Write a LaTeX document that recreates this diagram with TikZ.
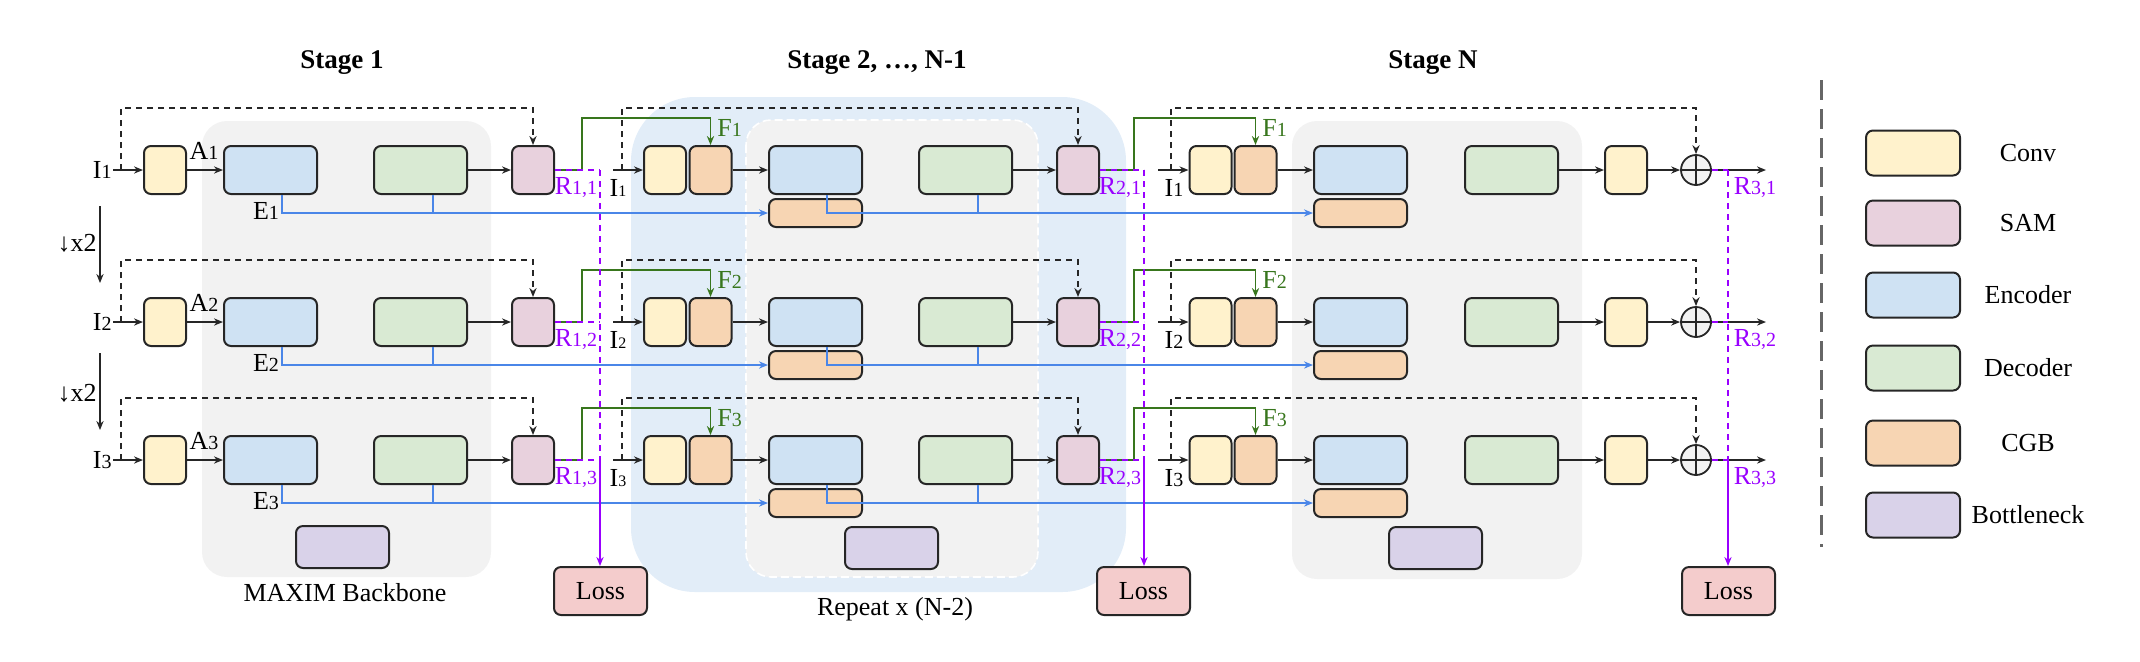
\documentclass[tikz,border=0pt]{standalone}
\usepackage{fontspec}
\setmainfont{Liberation Serif}
\usetikzlibrary{arrows.meta,calc}
\definecolor{convc}{HTML}{FFF2CC}
\definecolor{samc}{HTML}{E8D1DD}
\definecolor{encc}{HTML}{CFE2F3}
\definecolor{decc}{HTML}{D9EAD3}
\definecolor{cgbc}{HTML}{F7D5B3}
\definecolor{botc}{HTML}{D9D2E9}
\definecolor{lossc}{HTML}{F4CCCC}
\definecolor{grayreg}{HTML}{F2F2F2}
\definecolor{bluereg}{HTML}{E2EDF8}
\definecolor{bline}{HTML}{4A86E8}
\definecolor{gline}{HTML}{38761D}
\definecolor{purp}{HTML}{9900FF}
\newcommand\sbs[1]{{\fontsize{10}{10}\selectfont #1}}
\newcommand\sbt[1]{{\fontsize{8}{8}\selectfont #1}}
\tikzset{
 box/.style={draw=black!85, line width=1pt, rounded corners=3.5pt, inner sep=0pt, minimum height=24pt},
 sbox/.style={box, minimum width=21pt},
 wbox/.style={box, minimum width=46.5pt},
 convb/.style={sbox, fill=convc},
 samb/.style={sbox, fill=samc},
 cgbs/.style={sbox, fill=cgbc},
 encb/.style={wbox, fill=encc},
 decb/.style={wbox, fill=decc},
 cgbw/.style={wbox, fill=cgbc, minimum height=14pt},
 botb/.style={wbox, fill=botc, minimum height=21pt},
 lossb/.style={wbox, fill=lossc},
 legb/.style={box, minimum width=47pt, minimum height=22.5pt},
 arr/.style={-{Stealth[length=4.5pt,width=3.6pt]}},
 ln/.style={line width=0.8pt, black!85},
 dsh/.style={ln, dash pattern=on 3pt off 2.5pt},
 bl/.style={line width=0.8pt, bline},
 gr/.style={line width=0.8pt, gline},
 pd/.style={line width=0.8pt, purp, dash pattern=on 3pt off 2.5pt},
 ps/.style={line width=0.8pt, purp},
 lbl/.style={inner sep=0.5pt},
 ttl/.style={font=\fontsize{13.5}{15}\selectfont\bfseries},
}
\begin{document}
\begin{tikzpicture}[x=0.5pt, y=-0.5pt, font=\fontsize{13}{15}\selectfont]
\useasboundingbox (0,0) rectangle (2140,661);
% regions
\fill[grayreg, rounded corners=12.5pt] (202,121) rectangle (491,577);
\fill[bluereg, rounded corners=32pt] (631,97) rectangle (1126,592);
\filldraw[fill=grayreg, draw=white, line width=0.8pt, dash pattern=on 4pt off 2pt, rounded corners=12.5pt] (746,120) rectangle (1038,577);
\fill[grayreg, rounded corners=12.5pt] (1292,121) rectangle (1582,579);
% titles
\node[ttl] (t1) at (342,63) {Stage 1};
\node[ttl] (t2) at (877,63) {Stage 2, …, N-1};
\node[ttl] (t3) at (1433,63) {Stage N};
% rows: nodes
\foreach \r/\y in {1/170,2/322,3/460}{
 % stage 1
 \node[lbl, anchor=east] (IA\r) at (113,\y) {I\sbs{\r}};
 \node[convb] (convA\r) at (165,\y) {};
 \node[encb] (encA\r) at (270.5,\y) {};
 \node[decb] (decA\r) at (420.5,\y) {};
 \node[samb] (samA\r) at (533,\y) {};
 \node[lbl] (AA\r) at (204,\y-19) {A\sbs{\r}};
 \node[lbl] (EA\r) at (266,\y+41) {E\sbs{\r}};
 \node[lbl, text=purp] (RA\r) at (576,\y+18) {R\sbs{1,\r}};
 % stage 2
 \node[lbl] (IB\r) at (618,\y+18) {I\sbt{\r}};
 \node[convb] (convB\r) at (665,\y) {};
 \node[cgbs] (cgbB\r) at (710.5,\y) {};
 \node[encb] (encB\r) at (815.5,\y) {};
 \node[cgbw] (cgwB\r) at (815.5,\y+43) {};
 \node[decb] (decB\r) at (965.5,\y) {};
 \node[samb] (samB\r) at (1078,\y) {};
 \node[lbl, text=gline, anchor=west] (FB\r) at (716,\y-42) {F\sbs{\r}};
 \node[lbl, text=purp] (RB\r) at (1120,\y+18) {R\sbs{2,\r}};
 % stage N
 \node[lbl] (IC\r) at (1174,\y+18) {I\sbs{\r}};
 \node[convb] (convC\r) at (1210.5,\y) {};
 \node[cgbs] (cgbC\r) at (1255.5,\y) {};
 \node[encb] (encC\r) at (1360.5,\y) {};
 \node[cgbw] (cgwC\r) at (1360.5,\y+43) {};
 \node[decb] (decC\r) at (1511.5,\y) {};
 \node[convb] (convO\r) at (1626,\y) {};
 \node[circle, draw=black!85, line width=0.9pt, fill=grayreg, minimum size=15pt, inner sep=0pt] (plus\r) at (1696,\y) {};
 \node[lbl, text=gline, anchor=west] (FC\r) at (1261,\y-42) {F\sbs{\r}};
 \node[lbl, text=purp] (RC\r) at (1755,\y+18) {R\sbs{3,\r}};
}
% bottlenecks, losses, captions
\node[botb] (botA) at (342.5,547) {};
\node[botb] (botB) at (891.5,548) {};
\node[botb] (botC) at (1435.5,548) {};
\node[lossb] (lossA) at (600.5,591) {Loss};
\node[lossb] (lossB) at (1143.5,591) {Loss};
\node[lossb] (lossC) at (1728.5,591) {Loss};
\node (capA) at (345,593) {MAXIM Backbone};
\node (capB) at (895,609) {Repeat x (N-2)};
% connectors
\foreach \r/\y in {1/170,2/322,3/460}{
 % stage 1
 \draw[ln,arr] (IA\r.east) -- (convA\r.west);
 \coordinate (dA\r) at (121,\y);
 \draw[dsh,arr] (dA\r) -- ++(0,-62) -| (samA\r.north);
 \draw[ln,arr] (convA\r.east) -- (encA\r.west);
 \draw[ln,arr] (decA\r.east) -- (samA\r.west);
 \draw[gr,arr] (samA\r.east) -- ++(27,0) -- ++(0,-52) -| (cgbB\r.north);
 \coordinate (pA\r) at (600,\y);
 \draw[pd] (samA\r.east) -- (pA\r);
 \coordinate (ebA\r) at ($(encA\r.south)+(11.5,0)$);
 \draw[bl,arr] (ebA\r) |- (cgwB\r.west);
 \coordinate (dbA\r) at ($(decA\r.south)+(12.5,0)$);
 \draw[bl] (dbA\r) -- (dbA\r |- cgwB\r.west);
 % stage 2
 \coordinate (inB\r) at (613,\y);
 \draw[ln,arr] (inB\r) -- (convB\r.west);
 \coordinate (dB\r) at (622,\y);
 \draw[dsh,arr] (dB\r) -- ++(0,-62) -| (samB\r.north);
 \draw[ln,arr] (cgbB\r.east) -- (encB\r.west);
 \draw[ln,arr] (decB\r.east) -- (samB\r.west);
 \draw[gr,arr] (samB\r.east) -- ++(34,0) -- ++(0,-52) -| (cgbC\r.north);
 \coordinate (pB\r) at (1144,\y);
 \draw[pd] (samB\r.east) -- (pB\r);
 \coordinate (ebB\r) at ($(encB\r.south)+(11.5,0)$);
 \draw[bl,arr] (ebB\r) |- (cgwC\r.west);
 \coordinate (dbB\r) at ($(decB\r.south)+(12.5,0)$);
 \draw[bl] (dbB\r) -- (dbB\r |- cgwC\r.west);
 % stage N
 \coordinate (inC\r) at (1158,\y);
 \draw[ln,arr] (inC\r) -- (convC\r.west);
 \coordinate (dC\r) at (1171,\y);
 \draw[dsh,arr] (dC\r) -- ++(0,-62) -| (plus\r.north);
 \draw[ln,arr] (cgbC\r.east) -- (encC\r.west);
 \draw[ln,arr] (decC\r.east) -- (convO\r.west);
 \draw[ln,arr] (convO\r.east) -- (plus\r.west);
 \draw[line width=0.9pt, black!85] (plus\r.north) -- (plus\r.south) (plus\r.west) -- (plus\r.east);
 \coordinate (out\r) at (1766,\y);
 \draw[ln,arr] (plus\r.east) -- (out\r);
 \coordinate (pC\r) at (1728,\y);
 \draw[pd] (plus\r.east) -- (pC\r);
}
% purple verticals to losses
\draw[pd] (pA1) -- (pA3);
\draw[ps,arr] (pA3) -- (pA3 |- lossA.north);
\draw[pd] (pB1) -- (pB3);
\draw[ps,arr] (pB3) -- (pB3 |- lossB.north);
\draw[pd] (pC1) -- (pC3);
\draw[ps,arr] (pC3) -- (pC3 |- lossC.north);
% downsampling arrows
\coordinate (ds1) at (100,206); \coordinate (de1) at (100,283);
\coordinate (ds2) at (100,353); \coordinate (de2) at (100,430);
\draw[ln,arr] (ds1) -- (de1);
\draw[ln,arr] (ds2) -- (de2);
\node[lbl] (x2a) at (77,243) {↓x2};
\node[lbl] (x2b) at (77,393) {↓x2};
% legend
\coordinate (legt) at (1821,80); \coordinate (legb) at (1821,547);
\draw[line width=1.5pt, black!60, dash pattern=on 10pt off 4.5pt] (legt) -- (legb);
\node[legb, fill=convc] (lg1) at (1913,153) {};
\node[legb, fill=samc] (lg2) at (1913,223) {};
\node[legb, fill=encc] (lg3) at (1913,295) {};
\node[legb, fill=decc] (lg4) at (1913,368) {};
\node[legb, fill=cgbc] (lg5) at (1913,443) {};
\node[legb, fill=botc] (lg6) at (1913,515) {};
\node (lt1) at (2028,153) {Conv};
\node (lt2) at (2028,223) {SAM};
\node (lt3) at (2028,295) {Encoder};
\node (lt4) at (2028,368) {Decoder};
\node (lt5) at (2028,443) {CGB};
\node (lt6) at (2028,515) {Bottleneck};
\end{tikzpicture}
\end{document}
